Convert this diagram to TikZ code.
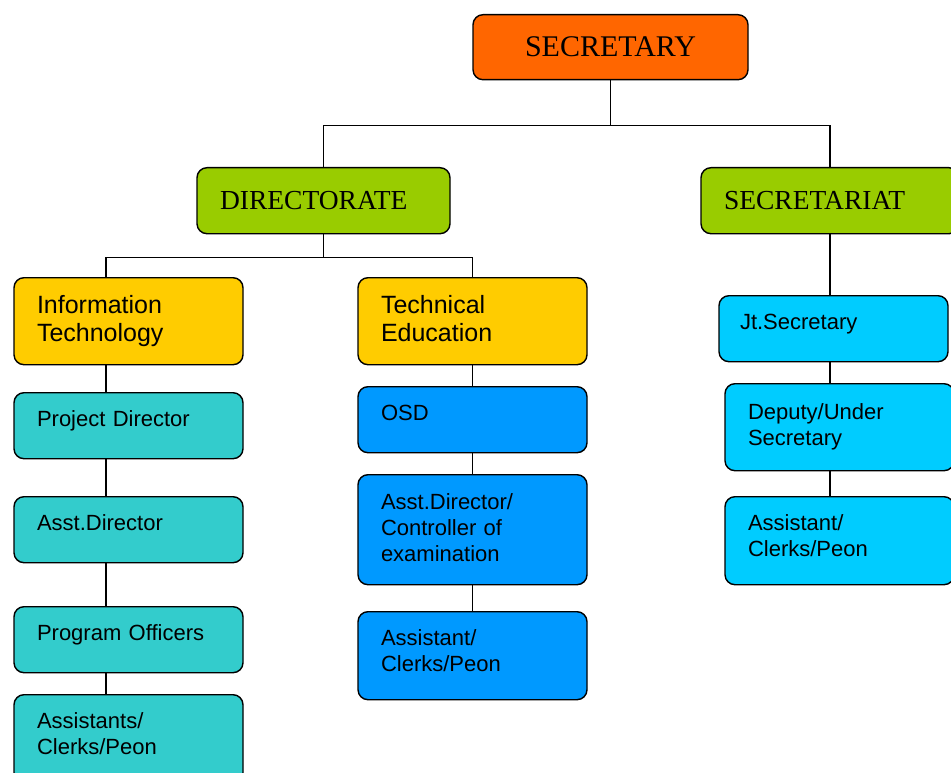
\documentclass[tikz,border=0pt]{standalone}
\usepackage{fontspec}
\setmainfont{Liberation Serif}
\setsansfont{Liberation Sans}
\usetikzlibrary{positioning,calc}
\definecolor{secorange}{RGB}{255,102,0}
\definecolor{winggreen}{RGB}{153,204,0}
\definecolor{deptyellow}{RGB}{255,204,0}
\definecolor{itteal}{RGB}{51,204,204}
\definecolor{teblue}{RGB}{0,153,255}
\definecolor{sectcyan}{RGB}{0,204,255}

\begin{document}
\begin{tikzpicture}[
        x=1pt, y=-1pt,
        b/.style={draw, line width=1.4pt, rounded corners=10pt, anchor=north, align=left, inner xsep=23pt, inner ysep=0pt},
        head/.style={b, fill=secorange, align=center, text width=229pt, minimum height=65pt, font=\rmfamily\fontsize{30}{34}\selectfont},
        wing/.style={b, fill=winggreen, minimum height=66pt, font=\rmfamily\fontsize{27.5}{31}\selectfont},
        dept/.style={b, fill=deptyellow, text width=183pt, minimum height=87pt, text depth=33.3pt, font=\sffamily\fontsize{25}{28}\selectfont},
        u/.style={b, text width=183pt, font=\sffamily\fontsize{22}{26}\selectfont},
        one/.style={minimum height=66pt, text depth=14pt},
        low/.style={minimum height=88pt, text depth=37pt},
        l/.style={line width=1.4pt}
    ]
    \useasboundingbox[fill=white] (0,0) rectangle (951,773);

    \node[head] (secy) at (610.5,14) {SECRETARY};
    \node[wing, text width=207pt] (dir) at (323.5,167) {DIRECTORATE};
    \node[wing, text width=212pt] (sect) at (830,167) {SECRETARIAT};

    % directorate side
    \node[dept] (it) at (128.5,277) {Information\\Technology};
    \node[dept] (te) at (472.5,277) {Technical\\Education};
    \node[u, one, fill=itteal] (pd) at (128.5,392) {Project Director};
    \node[u, one, fill=itteal] (ad) at (128.5,496) {Asst.Director};
    \node[u, one, fill=itteal] (po) at (128.5,606) {Program Officers};
    \node[u, low, fill=itteal] (ast) at (128.5,694) {Assistants/\\Clerks/Peon};
    \node[u, one, fill=teblue] (osd) at (472.5,386) {OSD};
    \node[u, fill=teblue, minimum height=110pt, text depth=56pt] (ctrl) at (472.5,474) {Asst.Director/\\Controller of\\examination};
    \node[u, low, fill=teblue] (teast) at (472.5,611) {Assistant/\\Clerks/Peon};

    % secretariat side
    \node[u, one, fill=sectcyan, inner xsep=21pt, text width=187pt] (jts) at (833.5,295) {Jt.Secretary};
    \node[u, fill=sectcyan, minimum height=87pt] (dus) at (839.5,383) {Deputy/Under\\Secretary};
    \node[u, low, fill=sectcyan] (sast) at (839.5,496) {Assistant/\\Clerks/Peon};

    \draw[l] (secy.south) -- ++(0,45) coordinate (sbus);
    \draw[l] (dir.north) |- (sbus) -| (sect.north);
    \draw[l] (dir.south) -- ++(0,23) coordinate (dbus);
    \coordinate (itx) at (106,0);
    \draw[l] (it.north -| itx) |- (dbus) -| (te.north);
    \foreach \a/\b in {it/pd,pd/ad,ad/po,po/ast}
        \draw[l] (\a.south -| itx) -- (\b.north -| itx);
    \foreach \a/\b in {te/osd,osd/ctrl,ctrl/teast}
        \draw[l] (\a.south) -- (\b.north -| \a.south);
    \foreach \a/\b in {sect/jts,jts/dus,dus/sast}
        \draw[l] (\a.south -| sect.south) -- (\b.north -| sect.south);
\end{tikzpicture}
\end{document}
